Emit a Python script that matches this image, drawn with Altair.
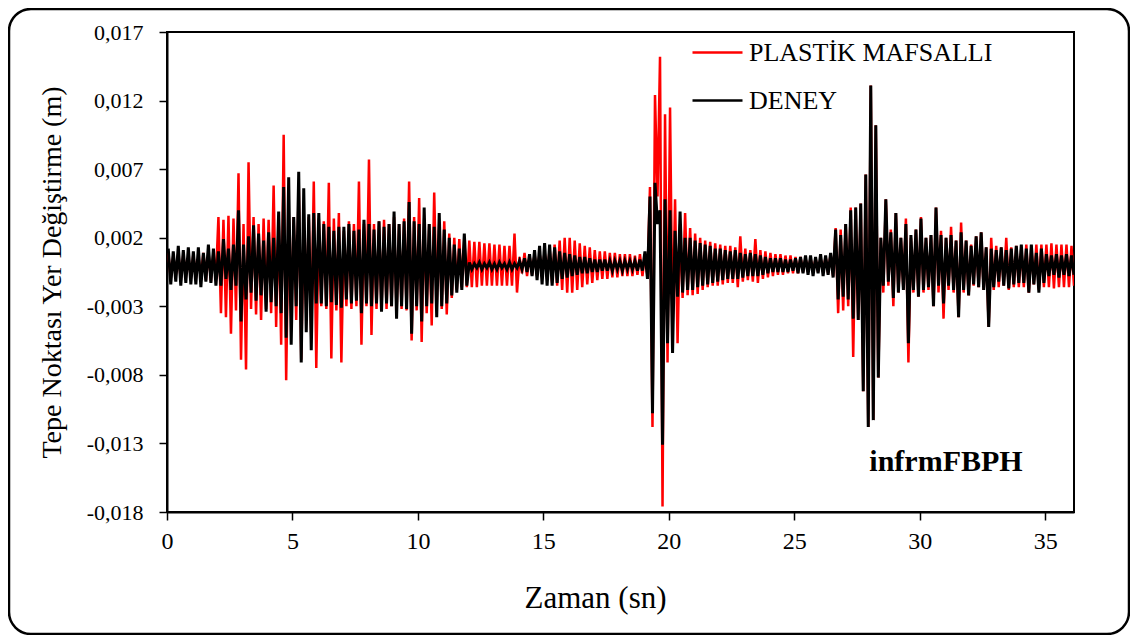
import altair as alt
import pandas as pd

SERIES = ["PLASTİK MAFSALLI", "DENEY"]
COLORS = ["#ff0000", "#000000"]

# peaks: one max and one min per 0.2 s cycle (values in mm),
# each row below is one second of record
T_STEP = 0.2
HI_OFFSET = 0.05
LO_OFFSET = 0.15

RED_HI = [
    0.9, 0.7, 0.9, 0.8, 0.7,
    0.8, 0.7, 0.9, 1.0, 0.9,
    3.5, 3.3, 3.6, 3.4, 6.7,
    3.0, 7.5, 3.5, 3.0, 3.4,
    3.3, 5.8, 3.5, 9.5, 4.0,
    3.5, 6.0, 3.2, 3.5, 6.1,
    3.4, 3.2, 6.0, 3.4, 3.8,
    2.5, 3.2, 3.0, 6.1, 3.0,
    7.7, 3.0, 3.2, 3.3, 3.0,
    3.5, 3.0, 3.4, 6.1, 3.5,
    4.9, 3.4, 3.0, 5.3, 3.0,
    3.2, 2.3, 2.0, 1.9, 1.9,
    1.8, 1.7, 1.7, 1.6, 1.6,
    1.5, 1.5, 1.4, 1.4, 2.3,
    0.6, 0.9, 0.7, 0.8, 0.9,
    1.0, 1.2, 1.5, 1.8, 2.0,
    2.0, 1.8, 1.6, 1.4, 1.3,
    1.1, 1.0, 1.0, 0.9, 0.9,
    0.8, 0.8, 0.8, 0.7, 0.8,
    0.8, 5.7, 12.4, 15.2, 11.0,
    11.5, 4.8, 3.0, 3.8, 2.7,
    2.3, 2.0, 1.8, 1.7, 1.6,
    1.5, 1.4, 1.4, 1.3, 2.1,
    1.2, 1.1, 1.9, 1.1, 1.0,
    0.9, 0.8, 0.8, 0.7, 0.7,
    0.6, 0.6, 0.5, 0.5, 0.5,
    0.5, 0.6, 0.8, 2.7, 2.6,
    3.0, 4.2, 4.2, 4.5, 6.6,
    13.1, 10.2, 2.0, 4.8, 2.6,
    3.8, 2.0, 3.4, 2.0, 2.6,
    3.5, 2.0, 2.2, 4.2, 2.5,
    2.0, 2.8, 1.8, 3.1, 1.8,
    1.5, 2.1, 2.4, 1.3, 2.0,
    1.4, 1.3, 2.0, 1.3, 1.4,
    1.3, 1.5, 1.4, 1.5, 1.5,
    1.5, 1.6, 1.5, 1.5, 1.5,
    1.4,
]
RED_LO = [
    -1.0, -0.8, -1.1, -0.9, -1.0,
    -1.0, -0.9, -1.1, -1.2, -1.0,
    -3.5, -3.8, -5.0, -3.3, -6.9,
    -7.6, -3.2, -3.6, -4.0, -3.2,
    -3.5, -4.5, -5.8, -8.4, -3.5,
    -4.0, -6.9, -3.5, -5.2, -7.5,
    -3.0, -3.2, -6.8, -3.3, -7.1,
    -3.0, -3.2, -3.0, -5.8, -3.0,
    -5.1, -3.2, -3.3, -3.2, -3.0,
    -3.5, -3.2, -3.3, -5.5, -3.3,
    -5.6, -3.5, -4.4, -3.0, -3.2,
    -3.6, -2.4, -1.8, -1.6, -1.6,
    -1.6, -1.6, -1.5, -1.5, -1.5,
    -1.5, -1.5, -1.5, -1.5, -2.0,
    -0.6, -0.8, -0.7, -0.8, -0.9,
    -1.0, -1.3, -1.5, -1.8, -2.0,
    -2.0, -1.8, -1.6, -1.4, -1.3,
    -1.1, -1.0, -1.0, -0.9, -0.9,
    -0.8, -0.8, -0.8, -0.7, -0.8,
    -0.8, -11.8, 5.0, -17.6, -7.1,
    -5.0, -5.7, -2.4, -2.2, -2.2,
    -2.1, -1.8, -1.6, -1.5, -1.5,
    -1.4, -1.3, -1.3, -1.6, -1.2,
    -1.1, -1.2, -1.3, -1.0, -0.9,
    -0.8, -0.7, -0.7, -0.6, -0.6,
    -0.6, -0.5, -0.5, -0.5, -0.5,
    -0.5, -0.6, -0.8, -3.5, -3.3,
    -3.0, -6.7, -4.0, -9.2, -11.8,
    -11.3, -8.2, -2.0, -1.5, -3.0,
    -2.0, -1.8, -7.1, -2.0, -2.3,
    -2.0, -1.8, -3.0, -2.0, -3.9,
    -1.8, -2.0, -3.8, -2.0, -2.2,
    -1.5, -1.6, -1.8, -4.5, -1.8,
    -1.6, -1.5, -1.8, -1.6, -1.6,
    -1.6, -2.0, -1.4, -1.8, -1.6,
    -1.6, -1.7, -1.6, -1.6, -1.6,
    -1.5,
]
BLK_HI = [
    1.2, 1.0, 1.4, 1.1, 1.3,
    1.0, 1.3, 0.9, 1.5, 1.2,
    1.0, 1.9, 1.2, 1.5, 4.0,
    1.5, 2.1, 2.9, 2.3, 1.8,
    2.4, 2.0, 3.9, 5.7, 6.4,
    3.5, 6.8, 5.6, 3.7, 3.8,
    3.8, 3.0, 2.8, 2.5, 2.8,
    2.8, 3.0, 2.5, 2.6, 3.3,
    3.0, 2.6, 3.2, 2.8, 3.0,
    3.9, 3.0, 3.2, 4.6, 3.2,
    3.0, 4.2, 3.0, 2.8, 3.8,
    2.6, 2.0, 1.5, 1.2, 2.3,
    0.2, 0.1, 0.2, 0.1, 0.2,
    0.1, 0.2, 0.1, 0.2, 0.1,
    0.3, 0.5, 0.8, 1.1, 1.4,
    1.6, 1.5, 1.3, 1.0, 0.9,
    0.8, 0.7, 0.6, 0.6, 0.5,
    0.4, 0.4, 0.4, 0.3, 0.3,
    0.3, 0.3, 0.3, 0.3, 0.4,
    1.0, 5.0, 6.0, 4.0, 4.8,
    4.0, 2.5, 3.9, 2.0, 2.0,
    1.8, 1.6, 1.5, 1.4, 1.2,
    1.2, 1.1, 1.0, 1.1, 0.9,
    0.8, 0.9, 0.8, 0.7, 0.6,
    0.5, 0.5, 0.5, 0.4, 0.4,
    0.5, 0.6, 0.7, 0.7, 0.6,
    0.8, 0.7, 0.9, 2.6, 2.2,
    3.0, 4.0, 4.2, 4.5, 6.6,
    13.1, 10.2, 2.0, 4.8, 2.4,
    3.8, 2.0, 3.0, 2.2, 2.6,
    3.4, 2.0, 2.2, 4.2, 2.2,
    2.0, 2.2, 1.8, 2.4, 1.8,
    1.4, 2.1, 2.4, 1.3, 1.2,
    1.1, 1.3, 1.1, 1.2, 1.4,
    1.5, 1.2, 1.5, 0.9, 1.2,
    0.8, 0.7, 0.8, 0.7, 0.8,
    0.7,
]
BLK_LO = [
    -1.4, -1.2, -1.5, -1.3, -1.4,
    -1.4, -1.6, -1.2, -1.3, -1.5,
    -1.5, -1.0, -1.8, -1.5, -4.1,
    -2.5, -2.0, -2.6, -2.2, -3.4,
    -2.7, -3.0, -3.5, -5.3, -5.8,
    -3.0, -7.1, -4.9, -6.2, -2.8,
    -2.8, -3.0, -2.7, -2.9, -3.1,
    -2.5, -2.8, -2.6, -3.5, -2.8,
    -3.0, -2.8, -3.4, -2.8, -3.0,
    -3.9, -3.0, -3.2, -5.0, -3.0,
    -4.1, -3.0, -2.8, -3.8, -3.0,
    -2.8, -2.2, -2.0, -1.8, -1.5,
    -0.3, -0.2, -0.3, -0.2, -0.3,
    -0.3, -0.2, -0.3, -0.3, -0.2,
    -0.3, -0.5, -0.8, -1.1, -1.4,
    -1.5, -1.5, -1.3, -1.0, -0.9,
    -0.8, -0.7, -0.6, -0.6, -0.5,
    -0.5, -0.4, -0.4, -0.4, -0.3,
    -0.4, -0.3, -0.3, -0.4, -0.4,
    -1.0, -10.8, 3.0, -13.1, -5.7,
    -6.4, -2.3, -2.0, -1.8, -1.8,
    -1.6, -1.5, -1.4, -1.3, -1.2,
    -1.1, -1.0, -1.0, -1.0, -0.9,
    -0.8, -0.8, -0.8, -0.7, -0.6,
    -0.5, -0.5, -0.5, -0.5, -0.4,
    -0.6, -0.6, -0.7, -0.8, -0.6,
    -0.8, -0.7, -0.9, -2.5, -2.3,
    -2.5, -3.9, -4.0, -9.2, -11.8,
    -11.3, -8.2, -1.5, -1.2, -2.4,
    -2.0, -1.8, -5.7, -1.8, -2.3,
    -1.8, -1.6, -3.0, -1.5, -2.8,
    -1.5, -1.8, -3.8, -1.8, -2.2,
    -1.4, -1.6, -1.8, -4.5, -1.6,
    -1.2, -1.5, -1.7, -1.4, -1.3,
    -1.3, -2.0, -1.4, -2.0, -1.3,
    -0.8, -0.7, -0.9, -0.7, -0.8,
    -0.7,
]

X_TICKS = [0, 5, 10, 15, 20, 25, 30, 35]
Y_TICKS = [-0.018, -0.013, -0.008, -0.003, 0.002, 0.007, 0.012, 0.017]
X_DOMAIN = [0, 36.15]
Y_DOMAIN = [-0.018, 0.017]

FONT = "Liberation Serif"


def build(name, hi, lo):
    rows = []
    for i, (h, l) in enumerate(zip(hi, lo)):
        rows.append({"t": i * T_STEP + HI_OFFSET, "v": h / 1000.0, "s": name})
        rows.append({"t": i * T_STEP + LO_OFFSET, "v": l / 1000.0, "s": name})
    return pd.DataFrame(rows)


red_df = build(SERIES[0], RED_HI, RED_LO)
blk_df = build(SERIES[1], BLK_HI, BLK_LO)

color = alt.Color(
    "s:N",
    scale=alt.Scale(domain=SERIES, range=COLORS),
    legend=alt.Legend(
        title=None, orient="none", legendX=524, legendY=-6, padding=0,
        symbolType="stroke", symbolSize=2500, symbolStrokeWidth=2.5,
        labelFont=FONT, labelFontSize=26, labelColor="black", labelLimit=500,
        labelOffset=5, rowPadding=8,
    ),
)
x = alt.X(
    "t:Q",
    scale=alt.Scale(domain=X_DOMAIN, nice=False, zero=False),
    axis=alt.Axis(values=X_TICKS, title="Zaman (sn)", labelPadding=9, labelFontSize=24,
                  titleFontSize=31, titlePadding=30, titleX=428, labelFlush=False, format="d"),
)
y = alt.Y(
    "v:Q",
    scale=alt.Scale(domain=Y_DOMAIN, nice=False, zero=False),
    axis=alt.Axis(
        values=Y_TICKS, title="Tepe Noktası Yer Değiştirme (m)", labelPadding=16, titlePadding=20,
        labelFontSize=22, titleFontSize=28, labelFlush=False,
        labelExpr="replace(replace(format(datum.value, '.3f'), '.', ','), '\u2212', '-')",
    ),
)

red = alt.Chart(red_df).mark_line(strokeWidth=2.5, clip=True).encode(x=x, y=y, color=color, order="t:Q")
blk = alt.Chart(blk_df).mark_line(strokeWidth=3, clip=True).encode(x=x, y=y, color=color, order="t:Q")

note = alt.Chart(pd.DataFrame({"label": ["infrmFBPH"]})).mark_text(
    font=FONT, fontSize=30, fontWeight="bold", color="black", align="center", baseline="middle"
).encode(text="label:N", x=alt.value(779), y=alt.value(430))

frame = alt.Chart(pd.DataFrame({"k": [0]})).mark_rect(
    filled=False, stroke="black", strokeWidth=2.5, cornerRadius=22
).encode(x=alt.value(-158), x2=alt.value(962), y=alt.value(-23), y2=alt.value(602))

chart = alt.layer(red, blk, note, frame).properties(
    width=907, height=480,
    autosize=alt.AutoSizeParams(type="none"),
    padding={"left": 159, "top": 24, "right": 56, "bottom": 123},
).configure_view(stroke="black", strokeWidth=2).configure_axis(
    grid=False, domainColor="black", domainWidth=2, tickColor="black", tickWidth=1.5, tickSize=8,
    labelFont=FONT, labelColor="black",
    titleFont=FONT, titleFontWeight="normal", titleColor="black",
)

chart.save("out.html", embed_options={"renderer": "svg", "actions": False})
